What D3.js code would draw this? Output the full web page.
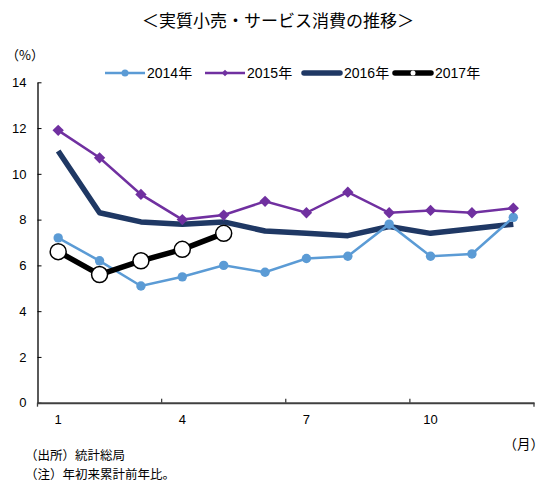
<!DOCTYPE html>
<html>
<head>
<meta charset="utf-8">
<script src="https://cdn.jsdelivr.net/npm/d3@7"></script>
<style>
  body { margin: 0; background: #fff; }
  text { font-family: "Liberation Sans", Arial, sans-serif; fill: #000; }
  .jp { font-family: "Noto Sans CJK JP", sans-serif; }
</style>
</head>
<body>
<svg class="chart"></svg>
<script>
// Data
var months = [1, 2, 3, 4, 5, 6, 7, 8, 9, 10, 11, 12];
var monthLabels = [1, 4, 7, 10];
var yTicks = [0, 2, 4, 6, 8, 10, 12, 14];
var seriesNames = ["2014年", "2015年", "2016年", "2017年"];
var v2014 = [7.2, 6.2, 5.1, 5.5, 6.0, 5.7, 6.3, 6.4, 7.8, 6.4, 6.5, 8.1];
var v2015 = [11.9, 10.7, 9.1, 8.0, 8.2, 8.8, 8.3, 9.2, 8.3, 8.4, 8.3, 8.5];
var v2016 = [11.0, 8.3, 7.9, 7.8, 7.9, 7.5, 7.4, 7.3, 7.7, 7.4, 7.6, 7.8];
var v2017 = [6.6, 5.6, 6.2, 6.7, 7.4];

var width = 544, height = 484;
var margin = { top: 82.3, right: 10, bottom: 81.3, left: 37.5 };

var chart = d3.select('.chart')
    .attr('width', width)
    .attr('height', height);

var xScale = d3.scaleBand()
    .domain(months)
    .range([margin.left, width - margin.right]);

var yScale = d3.scaleLinear()
    .domain([0, 14])
    .range([height - margin.bottom, margin.top]);

// Title
chart.append('text')
    .attr('class', 'jp')
    .attr('x', 278)
    .attr('y', 27)
    .attr('text-anchor', 'middle')
    .style('font-size', '17px')
    .text('＜実質小売・サービス消費の推移＞');

chart.append('text')
    .attr('class', 'jp')
    .attr('x', 6)
    .attr('y', 60)
    .style('font-size', '13px')
    .text('（%）');

// Y axis
var yAxis = d3.axisRight(yScale)
    .tickValues(yTicks)
    .tickSize(4)
    .tickSizeOuter(0)
    .tickFormat(d3.format('d'));
var gy = chart.append('g')
    .attr('transform', 'translate(' + margin.left + ',0)')
    .call(yAxis);
gy.select('.domain').attr('stroke', '#000').attr('stroke-width', 1.3);
gy.selectAll('.tick line').attr('stroke', '#000');
gy.selectAll('.tick text')
    .attr('x', -11)
    .attr('text-anchor', 'end')
    .style('font-size', '13px');

// X axis
var xAxis = d3.axisBottom(xScale)
    .tickValues([])
    .tickSizeOuter(0);
var gx = chart.append('g')
    .attr('transform', 'translate(0,' + yScale(0) + ')')
    .call(xAxis);
gx.select('.domain').attr('stroke', '#404040').attr('stroke-width', 2);

// tick marks between month groups
var bounds = [1, 4, 7, 10, 13];
function boundX(d) { return d > 12 ? xScale(12) + xScale.bandwidth() : xScale(d); }
gx.selectAll('.bound')
    .data(bounds)
    .enter()
    .append('line')
    .attr('x1', boundX)
    .attr('x2', boundX)
    .attr('y1', function(d) { return (d == 1 || d == 13) ? 4 : 0; })
    .attr('y2', function(d) { return (d == 1 || d == 13) ? 0 : -4; })
    .attr('stroke', '#404040')
    .attr('stroke-width', 1.3);

gx.selectAll('.mlabel')
    .data(monthLabels)
    .enter()
    .append('text')
    .attr('x', function(d) { return xScale(d) + xScale.bandwidth() / 2; })
    .attr('y', 21)
    .attr('text-anchor', 'middle')
    .style('font-size', '13px')
    .text(function(d) { return d; });

chart.append('text')
    .attr('class', 'jp')
    .attr('x', 544)
    .attr('y', 449)
    .attr('text-anchor', 'end')
    .style('font-size', '13.5px')
    .text('（月）');

// Lines
function cx(d, i) { return xScale(months[i]) + xScale.bandwidth() / 2; }
var line = d3.line()
    .x(cx)
    .y(function(d) { return yScale(d); });

chart.append('path')
    .datum(v2016)
    .attr('d', line)
    .attr('fill', 'none')
    .attr('stroke', '#1F3864')
    .attr('stroke-width', 5.5)
    .attr('stroke-linejoin', 'round');

chart.append('path')
    .datum(v2014)
    .attr('d', line)
    .attr('fill', 'none')
    .attr('stroke', '#5B9BD5')
    .attr('stroke-width', 2.5);
chart.append('g').selectAll('circle')
    .data(v2014)
    .enter()
    .append('circle')
    .attr('cx', cx)
    .attr('cy', function(d) { return yScale(d); })
    .attr('r', 4.7)
    .attr('fill', '#5B9BD5');

chart.append('path')
    .datum(v2015)
    .attr('d', line)
    .attr('fill', 'none')
    .attr('stroke', '#7030A0')
    .attr('stroke-width', 2.5);
var diamond = d3.symbol().type(d3.symbolSquare).size(64);
chart.append('g').selectAll('path')
    .data(v2015)
    .enter()
    .append('path')
    .attr('d', diamond)
    .attr('transform', function(d, i) { return 'translate(' + cx(d, i) + ',' + yScale(d) + ') rotate(45)'; })
    .attr('fill', '#7030A0');

chart.append('path')
    .datum(v2017)
    .attr('d', line)
    .attr('fill', 'none')
    .attr('stroke', '#000')
    .attr('stroke-width', 5.5)
    .attr('stroke-linejoin', 'round');
chart.append('g').selectAll('circle')
    .data(v2017)
    .enter()
    .append('circle')
    .attr('cx', cx)
    .attr('cy', function(d) { return yScale(d); })
    .attr('r', 8)
    .attr('fill', '#fff')
    .attr('stroke', '#000')
    .attr('stroke-width', 1.5);

// Legend
var legendX = [105, 205, 302, 393];
var legendY = 73;
var lg = chart.append('g').selectAll('g')
    .data(seriesNames)
    .enter()
    .append('g')
    .attr('transform', function(d, i) { return 'translate(' + legendX[i] + ',' + legendY + ')'; });

lg.append('line')
    .attr('x1', function(d, i) { return i > 1 ? 2 : 0; })
    .attr('x2', function(d, i) { return i > 1 ? 38 : 40; })
    .attr('stroke', function(d, i) { return ['#5B9BD5', '#7030A0', '#1F3864', '#000'][i]; })
    .attr('stroke-width', function(d, i) { return [2.5, 2.5, 5.5, 5.5][i]; })
    .attr('stroke-linecap', function(d, i) { return i > 1 ? 'round' : 'butt'; });

lg.filter(function(d, i) { return i == 0; })
    .append('circle').attr('cx', 20).attr('r', 3.5).attr('fill', '#5B9BD5');
lg.filter(function(d, i) { return i == 1; })
    .append('path').attr('d', d3.symbol().type(d3.symbolSquare).size(22))
    .attr('transform', 'translate(20,0) rotate(45)').attr('fill', '#7030A0');
lg.filter(function(d, i) { return i == 3; })
    .append('circle').attr('cx', 20).attr('r', 2.5).attr('fill', '#fff');

lg.append('text')
    .attr('x', 42)
    .attr('y', 5)
    .style('font-size', '14px')
    .text(function(d) { return d.slice(0, 4); })
    .append('tspan')
    .attr('class', 'jp')
    .style('font-family', '"Noto Sans CJK JP", sans-serif')
    .text(function(d) { return d.slice(4); });

// Notes
chart.append('text')
    .attr('class', 'jp')
    .attr('x', 25)
    .attr('y', 460)
    .style('font-size', '12.5px')
    .text('（出所）統計総局');
chart.append('text')
    .attr('class', 'jp')
    .attr('x', 25)
    .attr('y', 479)
    .style('font-size', '12.5px')
    .text('（注）年初来累計前年比。');
</script>
</body>
</html>
